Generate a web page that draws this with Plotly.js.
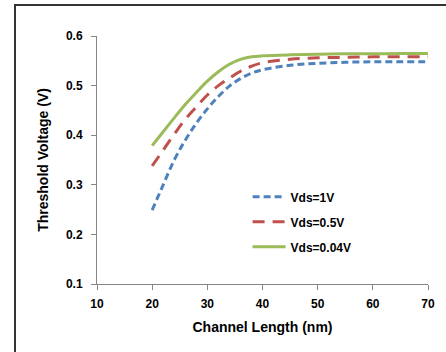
<!DOCTYPE html>
<html>
<head>
<meta charset="utf-8">
<script src="https://cdn.plot.ly/plotly-3.0.1.min.js"></script>
<style>
  html, body { margin: 0; padding: 0; background: #fff; }
  #wrap { position: relative; width: 446px; height: 352px; overflow: hidden; }
  #chart { width: 446px; height: 352px; }
  #frame { position: absolute; left: 14px; top: 4px; width: 440px; height: 360px;
           border-left: 2px solid #333; border-top: 2px solid #333; pointer-events: none; }
</style>
</head>
<body>
<div id="wrap">
  <div id="chart"></div>
  <div id="frame"></div>
</div>
<script>
const channelLength = [20, 22, 24, 26, 28, 30, 32, 34, 36, 38, 40, 45, 50, 55, 60, 65, 70];
const vth_vds1 =   [0.249, 0.300, 0.350, 0.390, 0.424, 0.453, 0.478, 0.499, 0.514, 0.525, 0.532, 0.541, 0.545, 0.547, 0.548, 0.548, 0.548];
const vth_vds05 =  [0.338, 0.370, 0.402, 0.432, 0.457, 0.481, 0.500, 0.515, 0.529, 0.539, 0.546, 0.553, 0.556, 0.557, 0.558, 0.558, 0.558];
const vth_vds004 = [0.379, 0.407, 0.435, 0.462, 0.486, 0.509, 0.528, 0.543, 0.553, 0.558, 0.560, 0.562, 0.563, 0.564, 0.564, 0.5645, 0.5645];
const seriesNames = ["Vds=1V", "Vds=0.5V", "Vds=0.04V"];
const xTicks = [10, 20, 30, 40, 50, 60, 70];
const yTicks = [0.1, 0.2, 0.3, 0.4, 0.5, 0.6];

const font = "Liberation Sans, Arial, sans-serif";
const traces = [
  {x: channelLength, y: vth_vds1, name: seriesNames[0], legendgroup: "a", mode: "lines",
   line: {color: "#4F81BD", width: 3, dash: "7px,4px", shape: "spline"}},
  {x: channelLength, y: vth_vds05, name: seriesNames[1], legendgroup: "b", mode: "lines",
   line: {color: "#C0504D", width: 3, dash: "12px,8px", shape: "spline"}},
  {x: channelLength, y: vth_vds004, name: seriesNames[2], legendgroup: "c", mode: "lines",
   line: {color: "#9BBB59", width: 3, shape: "spline"}}
];

const layout = {
  width: 446, height: 352,
  margin: {l: 97, r: 18, t: 36, b: 68},
  paper_bgcolor: "#fff", plot_bgcolor: "#fff",
  showlegend: true,
  legend: {x: 0.455, y: 0.41, xanchor: "left", yanchor: "top",
           traceorder: "grouped", tracegroupgap: 6, itemwidth: 33,
           bgcolor: "rgba(0,0,0,0)",
           font: {family: font, size: 12, color: "#000", weight: "bold"}},
  xaxis: {range: [10, 70], tickvals: xTicks, ticktext: xTicks.map(String),
          showgrid: false, zeroline: false, showline: true, linecolor: "#868686", linewidth: 1,
          ticks: "outside", ticklen: 5, tickcolor: "#868686", ticklabelstandoff: 4,
          tickfont: {family: font, size: 12, color: "#000", weight: "bold"},
          title: {text: "Channel Length (nm)", standoff: 11,
                  font: {family: font, size: 14, color: "#000", weight: "bold"}}},
  yaxis: {range: [0.1, 0.6], tickvals: yTicks, ticktext: yTicks.map(v => v.toFixed(1)),
          showgrid: false, zeroline: false, showline: true, linecolor: "#868686", linewidth: 1,
          ticks: "outside", ticklen: 5, tickcolor: "#868686", ticklabelstandoff: 6,
          tickfont: {family: font, size: 12, color: "#000", weight: "bold"},
          title: {text: "Threshold Voltage (V)", standoff: 14,
                  font: {family: font, size: 14, color: "#000", weight: "bold"}}}
};

Plotly.newPlot("chart", traces, layout, {displayModeBar: false, staticPlot: true});
</script>
</body>
</html>
